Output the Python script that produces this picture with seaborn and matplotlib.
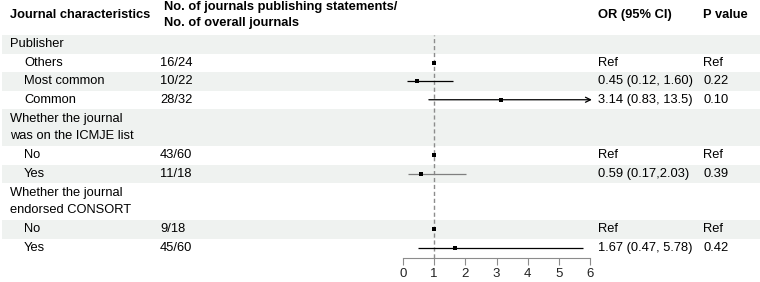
import numpy as np
import pandas as pd
import matplotlib
matplotlib.use("Agg")
import matplotlib.pyplot as plt
import seaborn as sns

# table data
labels = ["Publisher", "Others", "Most common", "Common",
          "Whether the journal\nwas on the ICMJE list", "No", "Yes",
          "Whether the journal\nendorsed CONSORT", "No", "Yes"]
is_sub = [False, True, True, True, False, True, True, False, True, True]
counts = ["", "16/24", "10/22", "28/32", "", "43/60", "11/18", "", "9/18", "45/60"]
est = [np.nan, 1, 0.45, 3.14, np.nan, 1, 0.59, np.nan, 1, 1.67]
low = [np.nan, 1, 0.12, 0.83, np.nan, 1, 0.17, np.nan, 1, 0.47]
high = [np.nan, 1, 1.60, 13.5, np.nan, 1, 2.03, np.nan, 1, 5.78]
or_text = ["", "Ref", "0.45 (0.12, 1.60)", "3.14 (0.83, 13.5)", "",
           "Ref", "0.59 (0.17,2.03)", "", "Ref", "1.67 (0.47, 5.78)"]
p_text = ["", "Ref", "0.22", "0.10", "", "Ref", "0.39", "", "Ref", "0.42"]
headers = ["Journal characteristics",
           "No. of journals publishing statements/\nNo. of overall journals",
           "OR (95% CI)", "P value"]
xticks = [0, 1, 2, 3, 4, 5, 6]
ci_colors = ["black", "black", "black", "black", "black",
             "black", "#7f7f7f", "black", "black", "black"]

sns.set_theme(style="white")
plt.rcParams["font.family"] = ["Liberation Sans", "DejaVu Sans"]

W, H = 760, 282
fig = plt.figure(figsize=(W / 100, H / 100), dpi=100)

# layout in pixels
unit = 18.5
top = 35
col_x = [10, 164, 598, 703]
x0_px, x1_px = 403, 590
heights = [lab.count("\n") + 1 for lab in labels]
edges = top + unit * np.concatenate([[0], np.cumsum(heights)])
centers = (edges[:-1] + edges[1:]) / 2
bottom = edges[-1]

bg = fig.add_axes([0, 0, 1, 1])
bg.set_xlim(0, W)
bg.set_ylim(H, 0)
bg.axis("off")

txt = dict(fontsize=9.3, color="black", va="center", ha="left", linespacing=1.5)

# header
hy = top - unit
for x, h in zip(col_x, headers):
    bg.text(x, hy - 1.5, h, fontweight="bold", **txt)

for i, lab in enumerate(labels):
    if i % 2 == 0:
        bg.axhspan(edges[i], edges[i + 1], xmin=2 / W, xmax=1, color="#eff2f0", lw=0)
    bg.text(col_x[0] + (14 if is_sub[i] else 0), centers[i], lab, **txt)
    bg.text(col_x[1] - 4, centers[i], counts[i], **txt)
    bg.text(col_x[2], centers[i], or_text[i], **txt)
    bg.text(col_x[3], centers[i], p_text[i], **txt)

# forest panel
ax = fig.add_axes([x0_px / W, (H - bottom - 1) / H, (x1_px - x0_px) / W, (bottom + 1 - top) / H])
ax.set_facecolor("none")
ax.set_xlim(xticks[0], xticks[-1])
ax.set_ylim(bottom + 1, top)
for s in ["top", "right", "left"]:
    ax.spines[s].set_visible(False)
ax.spines["bottom"].set_color("#8c8c8c")
ax.spines["bottom"].set_linewidth(0.8)
ax.set_xticks(xticks)
ax.set_yticks([])
ax.tick_params(axis="x", bottom=True, direction="out", length=5, width=0.8,
               color="#8c8c8c", labelsize=9.5, labelcolor="#222222", pad=2)

ax.axvline(1, color="#8c8c8c", lw=1, ls=(0, (3, 2)), zorder=1)

df = pd.DataFrame({"y": centers, "est": est, "low": low, "high": high, "c": ci_colors})
xmax = xticks[-1]
for _, r in df.dropna().iterrows():
    if r["high"] > r["low"]:
        if r["high"] > xmax:
            ax.annotate("", xy=(xmax + 0.06, r["y"]), xytext=(r["low"], r["y"]),
                        arrowprops=dict(arrowstyle="->", color=r["c"], lw=0.9,
                                        shrinkA=0, shrinkB=0, mutation_scale=9),
                        annotation_clip=False)
        else:
            ax.hlines(r["y"], r["low"], r["high"], color=r["c"], lw=0.9, zorder=2)

sns.scatterplot(data=df.dropna(), x="est", y="y", marker="s", s=11, color="black",
                edgecolor="black", linewidth=0, ax=ax, zorder=3, legend=False)
ax.set_xlabel("")
ax.set_ylabel("")

fig.savefig("out.png", dpi=100)
